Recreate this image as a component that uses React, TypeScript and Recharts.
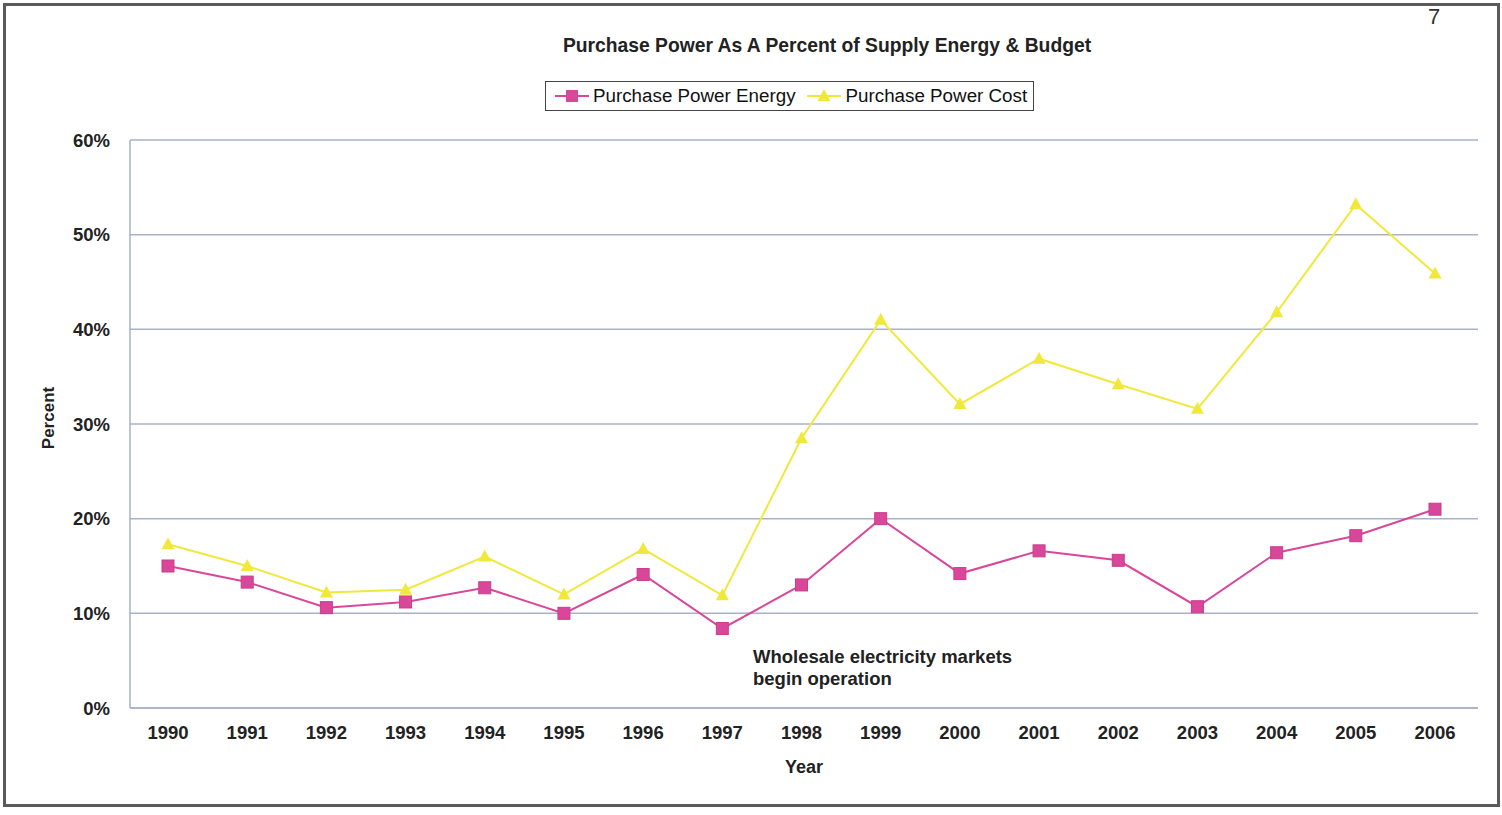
import React from "react";
import { LineChart, Line, XAxis, YAxis, CartesianGrid } from "recharts";

const years = [
  "1990", "1991", "1992", "1993", "1994", "1995", "1996", "1997", "1998",
  "1999", "2000", "2001", "2002", "2003", "2004", "2005", "2006",
];
const energyPct = [15, 13.3, 10.6, 11.2, 12.7, 10.0, 14.1, 8.4, 13.0, 20.0, 14.2, 16.6, 15.6, 10.7, 16.4, 18.2, 21.0];
const costPct = [17.3, 15.0, 12.2, 12.5, 16.0, 12.0, 16.8, 11.9, 28.5, 41.0, 32.1, 36.9, 34.2, 31.6, 41.8, 53.2, 45.9];
const yTicks = [0, 10, 20, 30, 40, 50, 60];

const data = years.map((year, i) => ({
  year,
  energy: energyPct[i],
  cost: costPct[i],
}));

const PINK = "#d9479a";
const YELLOW = "#f1e83c";
const GRID = "#a7b1c9";
const FONT = "'Liberation Sans', Arial, sans-serif";

const SquareDot = (props: any) => {
  const { cx, cy, index } = props;
  return <rect key={`s-${index}`} x={cx - 6} y={cy - 6} width={12} height={12} fill={PINK} stroke="#c93d8a" strokeWidth={1} />;
};

const TriangleDot = (props: any) => {
  const { cx, cy, index } = props;
  return (
    <polygon
      key={`t-${index}`}
      points={`${cx},${cy - 7} ${cx - 6.5},${cy + 5} ${cx + 6.5},${cy + 5}`}
      fill={YELLOW}
    />
  );
};

export default function App() {
  return (
    <div
      style={{
        position: "absolute",
        left: 0,
        top: 0,
        width: 1502,
        height: 815,
        background: "#fff",
        fontFamily: FONT,
        overflow: "hidden",
      }}
    >
      {/* page frame from the scan */}
      <div
        style={{
          position: "absolute",
          left: 3,
          top: 3,
          width: 1491,
          height: 798,
          border: "3px solid #5a5a5a",
          boxSizing: "content-box",
        }}
      />
      <div style={{ position: "absolute", left: 1428, top: 4, fontSize: 22, color: "#333" }}>7</div>

      {/* title */}
      <div
        style={{
          position: "absolute",
          left: 0,
          width: 1654,
          top: 35,
          textAlign: "center",
          fontSize: 19.3,
          fontWeight: 700,
          color: "#222",
        }}
      >
        Purchase Power As A Percent of Supply Energy &amp; Budget
      </div>

      {/* legend */}
      <div
        style={{
          position: "absolute",
          left: 545,
          top: 81,
          width: 487,
          height: 28,
          border: "1px solid #444",
          display: "flex",
          alignItems: "center",
          fontSize: 18.8,
          color: "#111",
        }}
      >
        <svg width={36} height={20} style={{ marginLeft: 8 }}>
          <line x1={1} y1={10} x2={35} y2={10} stroke={PINK} strokeWidth={2} />
          <rect x={12} y={4} width={12} height={12} fill={PINK} />
        </svg>
        <span style={{ marginLeft: 3 }}>Purchase Power Energy</span>
        <svg width={36} height={20} style={{ marginLeft: 10 }}>
          <line x1={1} y1={10} x2={35} y2={10} stroke={YELLOW} strokeWidth={2} />
          <polygon points="18,3 11.5,15 24.5,15" fill={YELLOW} />
        </svg>
        <span style={{ marginLeft: 4 }}>Purchase Power Cost</span>
      </div>

      {/* y-axis title */}
      <div
        style={{
          position: "absolute",
          left: 49,
          top: 418,
          transform: "translate(-50%, -50%) rotate(-90deg)",
          fontSize: 17,
          fontWeight: 700,
          color: "#222",
          whiteSpace: "nowrap",
        }}
      >
        Percent
      </div>

      <div style={{ position: "absolute", left: 0, top: 0 }}>
        <LineChart
          width={1502}
          height={815}
          data={data}
          margin={{ top: 140, right: 24, bottom: 77, left: 70 }}
        >
          <CartesianGrid horizontal vertical={false} stroke={GRID} strokeWidth={1.5} />
          <XAxis
            dataKey="year"
            scale="point"
            padding={{ left: 38, right: 43 }}
            height={30}
            axisLine={{ stroke: GRID, strokeWidth: 1.5 }}
            tickLine={false}
            tick={{ fontSize: 18.5, fontWeight: 700, fill: "#222", fontFamily: FONT }}
            tickMargin={12}
            label={{
              value: "Year",
              position: "insideBottom",
              offset: -35,
              fontSize: 18,
              fontWeight: 700,
              fill: "#222",
              fontFamily: FONT,
            }}
          />
          <XAxis xAxisId="top" orientation="top" dataKey="year" tick={false} tickLine={false} height={0} axisLine={{ stroke: "#c9d0e0" }} />
          <YAxis
            domain={[0, 60]}
            ticks={yTicks}
            width={60}
            interval={0}
            tickFormatter={(v: number) => `${v}%`}
            axisLine={{ stroke: GRID, strokeWidth: 1.5 }}
            tickLine={false}
            tickMargin={14}
            tick={{ fontSize: 18.5, fontWeight: 700, fill: "#222", fontFamily: FONT }}
          />
          <YAxis yAxisId="right" orientation="right" width={0} tick={false} tickLine={false} axisLine={{ stroke: "#c9d0e0" }} />
          <Line
            type="linear"
            dataKey="cost"
            stroke={YELLOW}
            strokeWidth={2}
            dot={TriangleDot}
            activeDot={false}
            isAnimationActive={false}
          />
          <Line
            type="linear"
            dataKey="energy"
            stroke={PINK}
            strokeWidth={2}
            dot={SquareDot}
            activeDot={false}
            isAnimationActive={false}
          />
        </LineChart>
      </div>

      {/* annotation */}
      <div
        style={{
          position: "absolute",
          left: 753,
          top: 646,
          fontSize: 18.5,
          fontWeight: 700,
          color: "#222",
          lineHeight: "22px",
        }}
      >
        Wholesale electricity markets
        <br />
        begin operation
      </div>
    </div>
  );
}
